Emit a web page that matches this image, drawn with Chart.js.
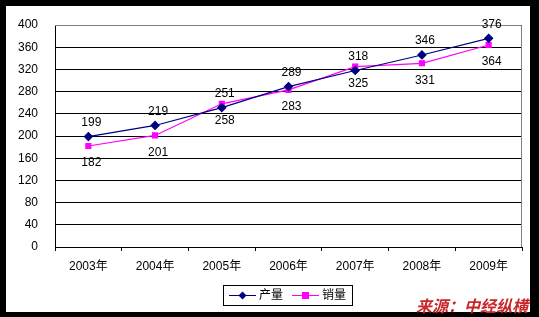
<!DOCTYPE html>
<html>
<head>
<meta charset="utf-8">
<script src="https://cdn.jsdelivr.net/npm/chart.js@4"></script>
<style>
  html, body { margin: 0; padding: 0; background: #000; }
  #wrap { position: relative; width: 539px; height: 317px; background: #000; overflow: hidden; }
  #myChart { position: absolute; left: 6px; top: 6px; background: #fff; }
  #source {
    position: absolute; left: 416px; top: 293px;
    font: italic bold 16px "Noto Sans CJK SC", sans-serif;
    color: #c8262b; white-space: nowrap;
  }
</style>
</head>
<body>
<div id="wrap">
  <canvas id="myChart" width="524" height="306"></canvas>
  <div id="source">来源：中经纵横</div>
</div>
<script>
const years = ['2003年', '2004年', '2005年', '2006年', '2007年', '2008年', '2009年'];
const output = [199, 219, 251, 289, 318, 346, 376];   // 产量
const sales = [182, 201, 258, 283, 325, 331, 364];    // 销量
const yTicks = [0, 40, 80, 120, 160, 200, 240, 280, 320, 360, 400];

const font = '"Liberation Sans", "Noto Sans CJK SC", sans-serif';

window.onload = () => {
  const ctx = document.querySelector('#myChart').getContext('2d');

  // value labels: 产量 above its point, 销量 below
  const labelPlugin = {
    id: 'valueLabels',
    afterDatasetsDraw(chart) {
      const c = chart.ctx;
      c.save();
      c.font = '12px ' + font;
      c.fillStyle = '#000';
      c.textAlign = 'center';
      c.textBaseline = 'middle';
      chart.data.datasets.forEach((ds, i) => {
        const meta = chart.getDatasetMeta(i);
        meta.data.forEach((pt, j) => {
          const dy = i === 0 ? -14 : 17;
          c.fillText(String(ds.data[j]), pt.x + 3, pt.y + dy);
        });
      });
      c.restore();
    }
  };

  // gray frame on top/right of plot area
  const framePlugin = {
    id: 'frame',
    beforeDatasetsDraw(chart) {
      const a = chart.chartArea;
      const c = chart.ctx;
      c.save();
      c.strokeStyle = '#808080';
      c.lineWidth = 1;
      c.beginPath();
      c.moveTo(a.left, a.top + 0.5);
      c.lineTo(a.right - 0.5, a.top + 0.5);
      c.lineTo(a.right - 0.5, a.bottom);
      c.stroke();
      c.restore();
    }
  };

  // boxed legend at bottom
  const legendPlugin = {
    id: 'boxLegend',
    afterDraw(chart) {
      const c = chart.ctx;
      const x0 = 217, y0 = 279, w = 129, h = 20;
      c.save();
      c.strokeStyle = '#000';
      c.lineWidth = 1;
      c.strokeRect(x0 + 0.5, y0 + 0.5, w, h);
      c.font = '12px ' + font;
      c.textBaseline = 'middle';
      c.textAlign = 'left';
      const cy = y0 + h / 2 + 0.5;
      chart.data.datasets.forEach((ds, i) => {
        const lx = x0 + 6 + i * 63;
        c.strokeStyle = ds.borderColor;
        c.beginPath();
        c.moveTo(lx, cy);
        c.lineTo(lx + 27, cy);
        c.stroke();
        c.fillStyle = ds.pointBackgroundColor;
        const mx = lx + 13.5;
        c.beginPath();
        if (ds.pointStyle === 'rectRot') {
          c.moveTo(mx, cy - 4); c.lineTo(mx + 4, cy); c.lineTo(mx, cy + 4); c.lineTo(mx - 4, cy);
        } else {
          c.rect(mx - 3.5, cy - 3.5, 7, 7);
        }
        c.closePath();
        c.fill();
        c.fillStyle = '#000';
        c.fillText(ds.label, lx + 30, cy);
      });
      c.restore();
    }
  };

  new Chart(ctx, {
    type: 'line',
    data: {
      labels: years,
      datasets: [
        {
          label: '产量',
          data: output,
          borderColor: '#000080',
          backgroundColor: '#000080',
          pointBackgroundColor: '#000080',
          pointBorderColor: '#000080',
          pointStyle: 'rectRot',
          pointRadius: 4,
          borderWidth: 1.2,
          tension: 0
        },
        {
          label: '销量',
          data: sales,
          borderColor: '#ff00ff',
          backgroundColor: '#ff00ff',
          pointBackgroundColor: '#ff00ff',
          pointBorderColor: '#ff00ff',
          pointStyle: 'rect',
          pointRadius: 3.5,
          borderWidth: 1.2,
          tension: 0
        }
      ]
    },
    options: {
      responsive: false,
      animation: false,
      layout: { padding: { top: 19, right: 8, left: 0, bottom: 0 } },
      plugins: {
        legend: { display: false },
        tooltip: { enabled: false }
      },
      scales: {
        x: {
          offset: true,
          grid: {
            offset: true,
            drawOnChartArea: false,
            drawTicks: true,
            tickLength: 4,
            color: '#000'
          },
          border: { color: '#000', width: 1 },
          ticks: {
            color: '#000',
            font: { size: 12, family: font },
            padding: 8,
            maxRotation: 0
          },
          afterFit(scale) { scale.height = 65; }
        },
        y: {
          min: 0,
          max: 400,
          afterBuildTicks(scale) { scale.ticks = yTicks.map(v => ({ value: v })); },
          grid: { color: '#000', drawTicks: false, lineWidth: 1 },
          border: { color: '#000', width: 1 },
          ticks: {
            color: '#000',
            font: { size: 12, family: font },
            padding: 17
          },
          afterFit(scale) {
            scale.width = 49;
            scale.paddingTop = 0;
            scale.paddingBottom = 0;
          }
        }
      }
    },
    plugins: [framePlugin, labelPlugin, legendPlugin]
  });
};
</script>
</body>
</html>
